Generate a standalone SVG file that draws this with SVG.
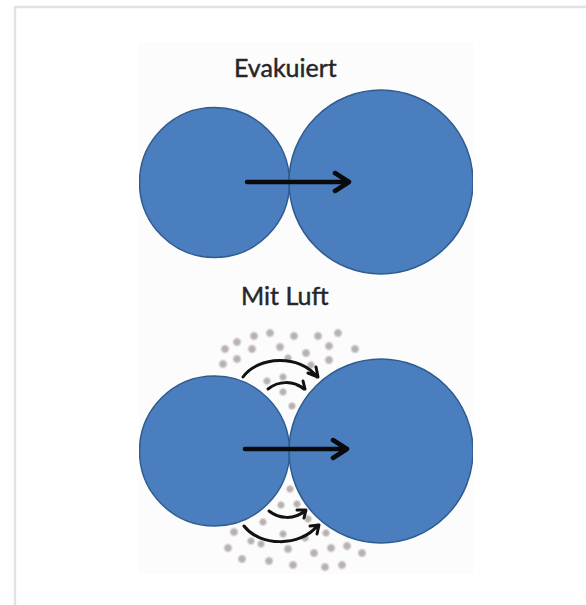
<svg xmlns="http://www.w3.org/2000/svg" width="586" height="605" viewBox="0 0 586 605">
  <style>
    .disc { fill: #4a7ebf; stroke: #2f5c8f; stroke-width: 1.5; }
    .label { font-family: "Lato", "Liberation Sans", sans-serif; font-size: 25px; fill: #26262a; stroke: #26262a; stroke-width: 0.45; }
    .shaft { fill: none; stroke: #0a0a0c; stroke-width: 4.5; stroke-linecap: round; stroke-linejoin: round; }
    .curve { fill: none; stroke: #121214; stroke-width: 3; stroke-linecap: round; stroke-linejoin: round; }
    .dot { fill: url(#particle); }
  </style>
  <defs>
    <radialGradient id="particle">
      <stop offset="0" stop-color="#b4abab"/>
      <stop offset="0.5" stop-color="#c0b8b8"/>
      <stop offset="1" stop-color="#e0dcdc" stop-opacity="0"/>
    </radialGradient>
    <clipPath id="panel"><rect x="139" y="42" width="334" height="532"/></clipPath>
  </defs>

  <rect width="586" height="605" fill="#ffffff"/>
  <!-- page frame: open on the right and bottom -->
  <path d="M15 605V7H586" fill="none" stroke="#e2e2e2" stroke-width="2.4"/>
  <rect x="139" y="42" width="334" height="532" fill="#fcfcfc"/>

  <g id="label-evakuiert"><text class="label" x="234" y="77">Evakuiert</text></g>
  <g id="label-mit-luft"><text class="label" x="241" y="305">Mit Luft</text></g>

  <g id="air-particles">
    <circle class="dot" cx="254" cy="336" r="5.500"/><circle class="dot" cx="270" cy="333" r="5.500"/>
    <circle class="dot" cx="294" cy="336" r="5.500"/><circle class="dot" cx="318" cy="336" r="5.500"/>
    <circle class="dot" cx="338" cy="333" r="5.500"/><circle class="dot" cx="237" cy="342" r="5.500"/>
    <circle class="dot" cx="225" cy="349" r="5.500"/><circle class="dot" cx="252" cy="349" r="5.500"/>
    <circle class="dot" cx="280" cy="347" r="5.500"/><circle class="dot" cx="329" cy="346" r="5.500"/>
    <circle class="dot" cx="355" cy="349" r="5.500"/><circle class="dot" cx="223" cy="364" r="5.500"/>
    <circle class="dot" cx="237" cy="359" r="5.500"/><circle class="dot" cx="306" cy="353" r="5.500"/>
    <circle class="dot" cx="329" cy="360" r="5.500"/><circle class="dot" cx="288" cy="358" r="5"/>
    <circle class="dot" cx="311" cy="365" r="5"/><circle class="dot" cx="267" cy="381" r="5"/>
    <circle class="dot" cx="283" cy="377" r="5"/><circle class="dot" cx="283" cy="392" r="5"/>
    <circle class="dot" cx="292" cy="406" r="5"/>
    <circle class="dot" cx="290" cy="489" r="5"/><circle class="dot" cx="281" cy="505" r="5"/>
    <circle class="dot" cx="297" cy="504" r="5"/><circle class="dot" cx="263" cy="522" r="5"/>
    <circle class="dot" cx="308" cy="519" r="5"/><circle class="dot" cx="234" cy="532" r="5.500"/>
    <circle class="dot" cx="283" cy="534" r="5"/><circle class="dot" cx="326" cy="533" r="5"/>
    <circle class="dot" cx="251" cy="541" r="5"/><circle class="dot" cx="261" cy="544" r="5"/>
    <circle class="dot" cx="305" cy="538" r="5"/><circle class="dot" cx="228" cy="548" r="5.500"/>
    <circle class="dot" cx="288" cy="549" r="5.500"/><circle class="dot" cx="331" cy="548" r="5.500"/>
    <circle class="dot" cx="347" cy="546" r="5.500"/><circle class="dot" cx="362" cy="553" r="5.500"/>
    <circle class="dot" cx="314" cy="553" r="5.500"/><circle class="dot" cx="242" cy="559" r="5.500"/>
    <circle class="dot" cx="269" cy="561" r="5.500"/><circle class="dot" cx="293" cy="565" r="5.500"/>
    <circle class="dot" cx="325" cy="567" r="5.500"/><circle class="dot" cx="342" cy="565" r="5.500"/>
  </g>

  <g clip-path="url(#panel)">
    <g id="small-sphere-vacuum"><circle class="disc" cx="214.500" cy="182.500" r="75"/></g>
    <g id="large-sphere-vacuum"><circle class="disc" cx="381" cy="182" r="92"/></g>
    <g id="small-sphere-air"><circle class="disc" cx="214.500" cy="451" r="75"/></g>
    <g id="large-sphere-air"><circle class="disc" cx="381" cy="451" r="92"/></g>
  </g>

  <g id="connectors">
    <path class="shaft" d="M247 182H348M335 173L349 182L335 191"/>
    <path class="shaft" d="M245 449H346M333 440L347 449L333 458"/>
    <path class="curve" d="M243 377C258 356 300 354 317 377M308 373L318 377L316 367"/>
    <path class="curve" d="M268 389C278 381 293 380 304 389M297 385L305 389L303 381"/>
    <path class="curve" d="M269 511C279 519 294 520 305 511M297 510L306 510L304 518"/>
    <path class="curve" d="M244 526C259 546 300 548 318 525M310 526L319 525L317 534"/>
  </g>
</svg>
